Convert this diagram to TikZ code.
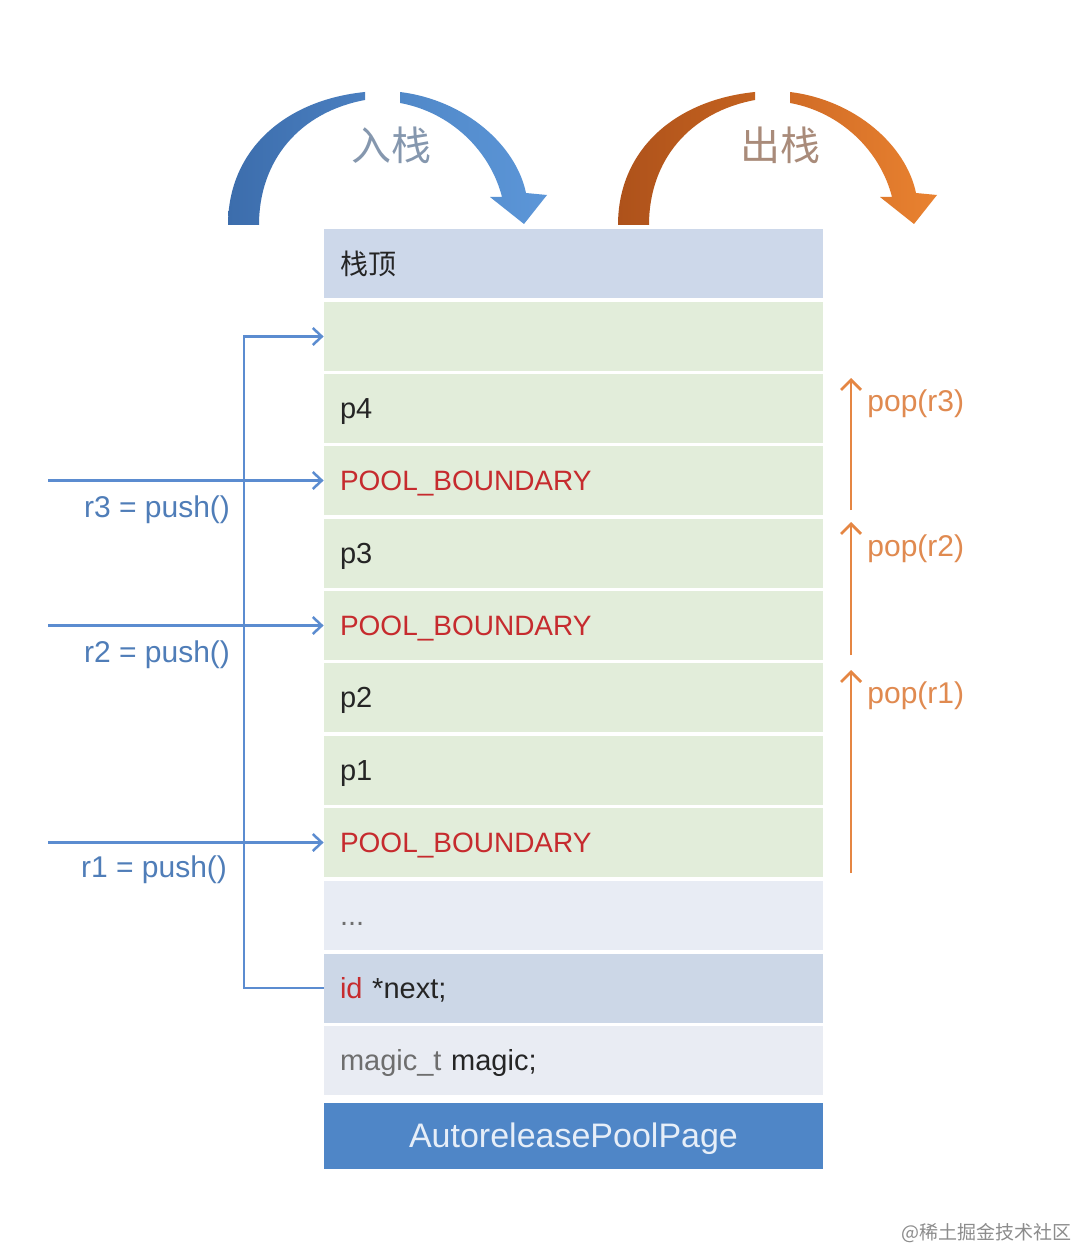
\documentclass[tikz,border=0pt]{standalone}
\usepackage{fontspec}
\setmainfont{Liberation Sans}
\newfontfamily\cjk{Noto Sans CJK SC}
\usetikzlibrary{arrows.meta}
\definecolor{topc}{HTML}{CDD8EA}
\definecolor{greenc}{HTML}{E2EDDA}
\definecolor{dotsc}{HTML}{E8ECF4}
\definecolor{idc}{HTML}{CCD7E7}
\definecolor{magicc}{HTML}{E9ECF3}
\definecolor{pagec}{HTML}{4F86C7}
\definecolor{pagetext}{HTML}{E6EEF8}
\definecolor{bluel}{HTML}{5B8CD0}
\definecolor{bluetext}{HTML}{4F7DB8}
\definecolor{orangel}{HTML}{E58643}
\definecolor{orangetext}{HTML}{E08A50}
\definecolor{redt}{HTML}{C62B2E}
\definecolor{darkt}{HTML}{252525}
\definecolor{grayt}{HTML}{6E6E6E}
\definecolor{bdk}{HTML}{3C6DAC}
\definecolor{bmd}{HTML}{4A7FC0}
\definecolor{bmd2}{HTML}{5088C8}
\definecolor{blt}{HTML}{5C96D8}
\definecolor{odk}{HTML}{AE521B}
\definecolor{omd}{HTML}{C4621F}
\definecolor{omd2}{HTML}{D16C26}
\definecolor{olt}{HTML}{E98230}
\definecolor{cjkblue}{HTML}{8597AE}
\definecolor{cjkorange}{HTML}{A98B7A}
\begin{document}
\begin{tikzpicture}[x=0.5pt,y=-0.5pt,
  cell/.style={rectangle, minimum width=249.5pt, minimum height=34.5pt,
    text width=233.5pt, inner xsep=8pt, inner ysep=0pt, align=left,
    text height=12pt, text depth=2pt,
    font=\fontsize{14.5}{16}\selectfont, text=darkt},
  pagecell/.style={rectangle, fill=pagec, minimum width=249.5pt, minimum height=33pt,
    inner sep=0pt, align=center, text height=13.2pt, text depth=2pt,
    font=\fontsize{17}{19}\selectfont, text=pagetext},
  bline/.style={draw=bluel, line width=1.25pt},
  barrow/.style={bline, -{Straight Barb[length=4.5pt,width=8.5pt,line width=1.25pt]}},
  oarrow/.style={draw=orangel, line width=1.4pt, -{Straight Barb[length=5pt,width=10pt,line width=1.4pt]}},
  blabel/.style={font=\fontsize{15}{17}\selectfont, text=bluetext, inner sep=0pt},
  olabel/.style={font=\fontsize{15}{17}\selectfont, text=orangetext, inner sep=0pt, anchor=west},
  biglabel/.style={font=\cjk\fontsize{20}{22}\selectfont, inner sep=0pt}
]
\fill[white] (0,0) rectangle (1075,1251);
\useasboundingbox (0,0) rectangle (1075,1251);

% curved arrows
\shade[left color=bdk, right color=bmd] (228,225) .. controls (228,150) and (285,100) .. (365,92) -- (365,100) .. controls (300,112) and (259,160) .. (259,225) -- cycle;
\shade[left color=bmd2, right color=blt] (400,92) .. controls (465,100) and (516,145) .. (526,193) -- (547,195) -- (524,224) -- (490,197) -- (502,197) .. controls (490,150) and (450,112) .. (400,103) -- cycle;
\begin{scope}[shift={(390,0)}]
\shade[left color=odk, right color=omd] (228,225) .. controls (228,150) and (285,100) .. (365,92) -- (365,100) .. controls (300,112) and (259,160) .. (259,225) -- cycle;
\shade[left color=omd2, right color=olt] (400,92) .. controls (465,100) and (516,145) .. (526,193) -- (547,195) -- (524,224) -- (490,197) -- (502,197) .. controls (490,150) and (450,112) .. (400,103) -- cycle;
\end{scope}
\node[biglabel, text=cjkblue] (push) at (391,145) {入栈};
\node[biglabel, text=cjkorange] (pop) at (780,145) {出栈};

% stack
\node[cell, fill=topc, text height=12.3pt, text depth=1.7pt, font=\cjk\fontsize{14}{16}\selectfont] (top) at (573.5,263.5) {栈顶};
\node[cell, fill=greenc] (e0) at (573.5,336.5) {};
\node[cell, fill=greenc] (p4) at (573.5,408) {p4};
\node[cell, fill=greenc, text=redt, font=\fontsize{14}{16}\selectfont] (b3) at (573.5,480.5) {POOL\_BOUNDARY};
\node[cell, fill=greenc] (p3) at (573.5,553) {p3};
\node[cell, fill=greenc, text=redt, font=\fontsize{14}{16}\selectfont] (b2) at (573.5,625.5) {POOL\_BOUNDARY};
\node[cell, fill=greenc] (p2) at (573.5,697.5) {p2};
\node[cell, fill=greenc] (p1) at (573.5,770) {p1};
\node[cell, fill=greenc, text=redt, font=\fontsize{14}{16}\selectfont] (b1) at (573.5,842.5) {POOL\_BOUNDARY};
\node[cell, fill=dotsc, text=grayt] (dots) at (573.5,915.5) {...};
\node[cell, fill=idc] (nxt) at (573.5,988) {{\color{redt}id} *next;};
\node[cell, fill=magicc] (mag) at (573.5,1060.5) {{\color{grayt}magic\_t} magic;};
\node[pagecell] (page) at (573.5,1136) {AutoreleasePoolPage};

% next pointer connector
\coordinate (vb) at (244,988);
\draw[barrow] (nxt.west) -- (vb) |- (e0.west);

% push arrows
\coordinate (s3) at (48,480.5);
\coordinate (s2) at (48,625.5);
\coordinate (s1) at (48,842.5);
\draw[barrow] (s3) -- (b3.west);
\draw[barrow] (s2) -- (b2.west);
\draw[barrow] (s1) -- (b1.west);
\node[blabel] (l3) at (157,510) {r3 = push()};
\node[blabel] (l2) at (157,655) {r2 = push()};
\node[blabel] (l1) at (154,870) {r1 = push()};

% pop arrows
\coordinate (o3a) at (851,510);
\coordinate (o3b) at (851,378);
\coordinate (o2a) at (851,655);
\coordinate (o2b) at (851,522);
\coordinate (o1a) at (851,873);
\coordinate (o1b) at (851,670);
\draw[oarrow] (o3a) -- (o3b);
\draw[oarrow] (o2a) -- (o2b);
\draw[oarrow] (o1a) -- (o1b);
\node[olabel] (q3) at (867,404) {pop(r3)};
\node[olabel] (q2) at (867,549) {pop(r2)};
\node[olabel] (q1) at (867,696) {pop(r1)};

% watermark
\node[font=\cjk\fontsize{9.5}{11}\selectfont, text=black!45, inner sep=0pt] (wm) at (986,1233) {@稀土掘金技术社区};
\end{tikzpicture}
\end{document}
